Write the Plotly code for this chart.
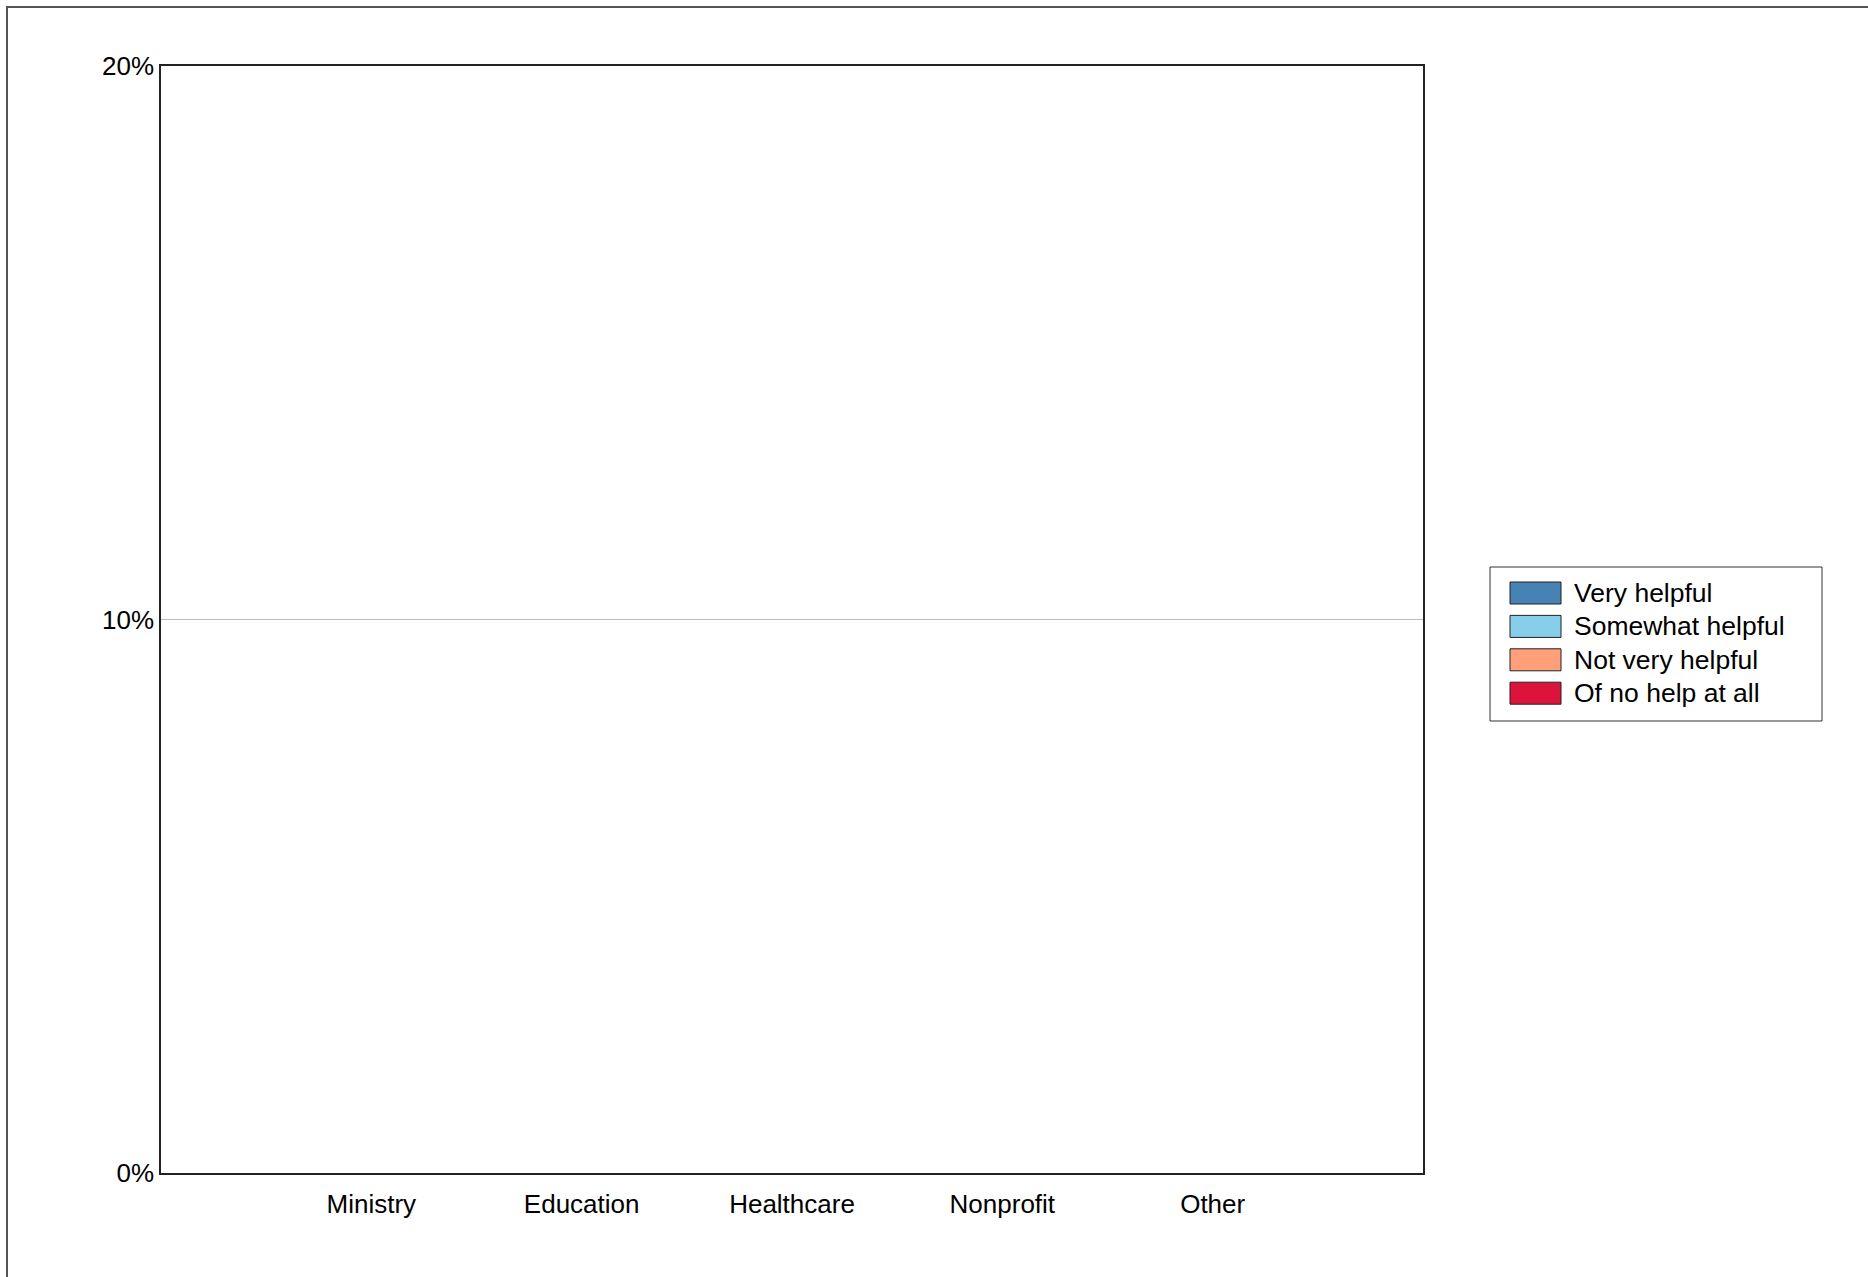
import plotly.graph_objects as go

categories = ["Ministry", "Education", "Healthcare", "Nonprofit", "Other"]
series_names = ["Very helpful", "Somewhat helpful", "Not very helpful", "Of no help at all"]
very_helpful = [0, 0, 0, 0, 0]
somewhat_helpful = [0, 0, 0, 0, 0]
not_very_helpful = [0, 0, 0, 0, 0]
no_help = [0, 0, 0, 0, 0]
colors = ["#4682B4", "#87CEEB", "#FFA07A", "#DC143C"]
y_ticks = [0, 0.1, 0.2]

W, H = 1868, 1277
# plot area in page pixels
L, R, T, B = 161, 1423, 66, 1173
pw = R - L
ph = B - T


def px(x):
    return (x - L) / pw


def py(y):
    return (B - y) / ph


FONT = "Liberation Sans, Arial, sans-serif"

fig = go.Figure()
for name, vals, col in zip(series_names, [very_helpful, somewhat_helpful, not_very_helpful, no_help], colors):
    fig.add_trace(go.Bar(x=categories, y=vals, name=name, showlegend=False,
                         marker=dict(color=col, line=dict(color="#222", width=1))))

shapes = [
    # outer page frame
    dict(type="rect", xref="paper", yref="paper",
         x0=px(7), x1=px(W + 60), y0=py(H + 60), y1=py(7),
         line=dict(color="#555", width=2), fillcolor="rgba(0,0,0,0)", layer="below"),
    # legend box
    dict(type="rect", xref="paper", yref="paper",
         x0=px(1490), x1=px(1822), y0=py(721), y1=py(567),
         line=dict(color="#333", width=1), fillcolor="white", layer="above"),
]
annotations = []
row_top = 582
pitch = 33.4
for i, (name, col) in enumerate(zip(series_names, colors)):
    top = row_top + i * pitch
    shapes.append(dict(type="rect", xref="paper", yref="paper",
                       x0=px(1510), x1=px(1561), y0=py(top + 22), y1=py(top),
                       line=dict(color="#222", width=1), fillcolor=col, layer="above"))
    annotations.append(dict(xref="paper", yref="paper", x=px(1572), y=py(top + 11),
                            xanchor="left", yanchor="middle", showarrow=False,
                            text=name, font=dict(family=FONT, size=26.5, color="#000")))

fig.update_layout(
    width=W, height=H,
    margin=dict(l=L, r=W - R, t=T, b=H - B, pad=0),
    barmode="stack",
    paper_bgcolor="white", plot_bgcolor="white",
    font=dict(family=FONT, size=26, color="#000"),
    showlegend=False,
    xaxis=dict(type="category", range=[-1, 5], showgrid=False, ticks="",
               showline=True, linecolor="#222", linewidth=1.5, mirror=True,
               ticklabelstandoff=7, zeroline=False),
    yaxis=dict(range=[0, 0.2], tickvals=y_ticks, tickformat=".0%", showgrid=True,
               gridcolor="#bdbdbd", gridwidth=1.2, ticks="", showline=True,
               linecolor="#222", linewidth=1.5, mirror=True, zeroline=False,
               ticklabelstandoff=0),
    shapes=shapes,
    annotations=annotations,
)

fig.write_html("out.html",
               config={"displayModeBar": False},
               post_script="document.body.style.margin='0';document.body.style.overflow='hidden';")
